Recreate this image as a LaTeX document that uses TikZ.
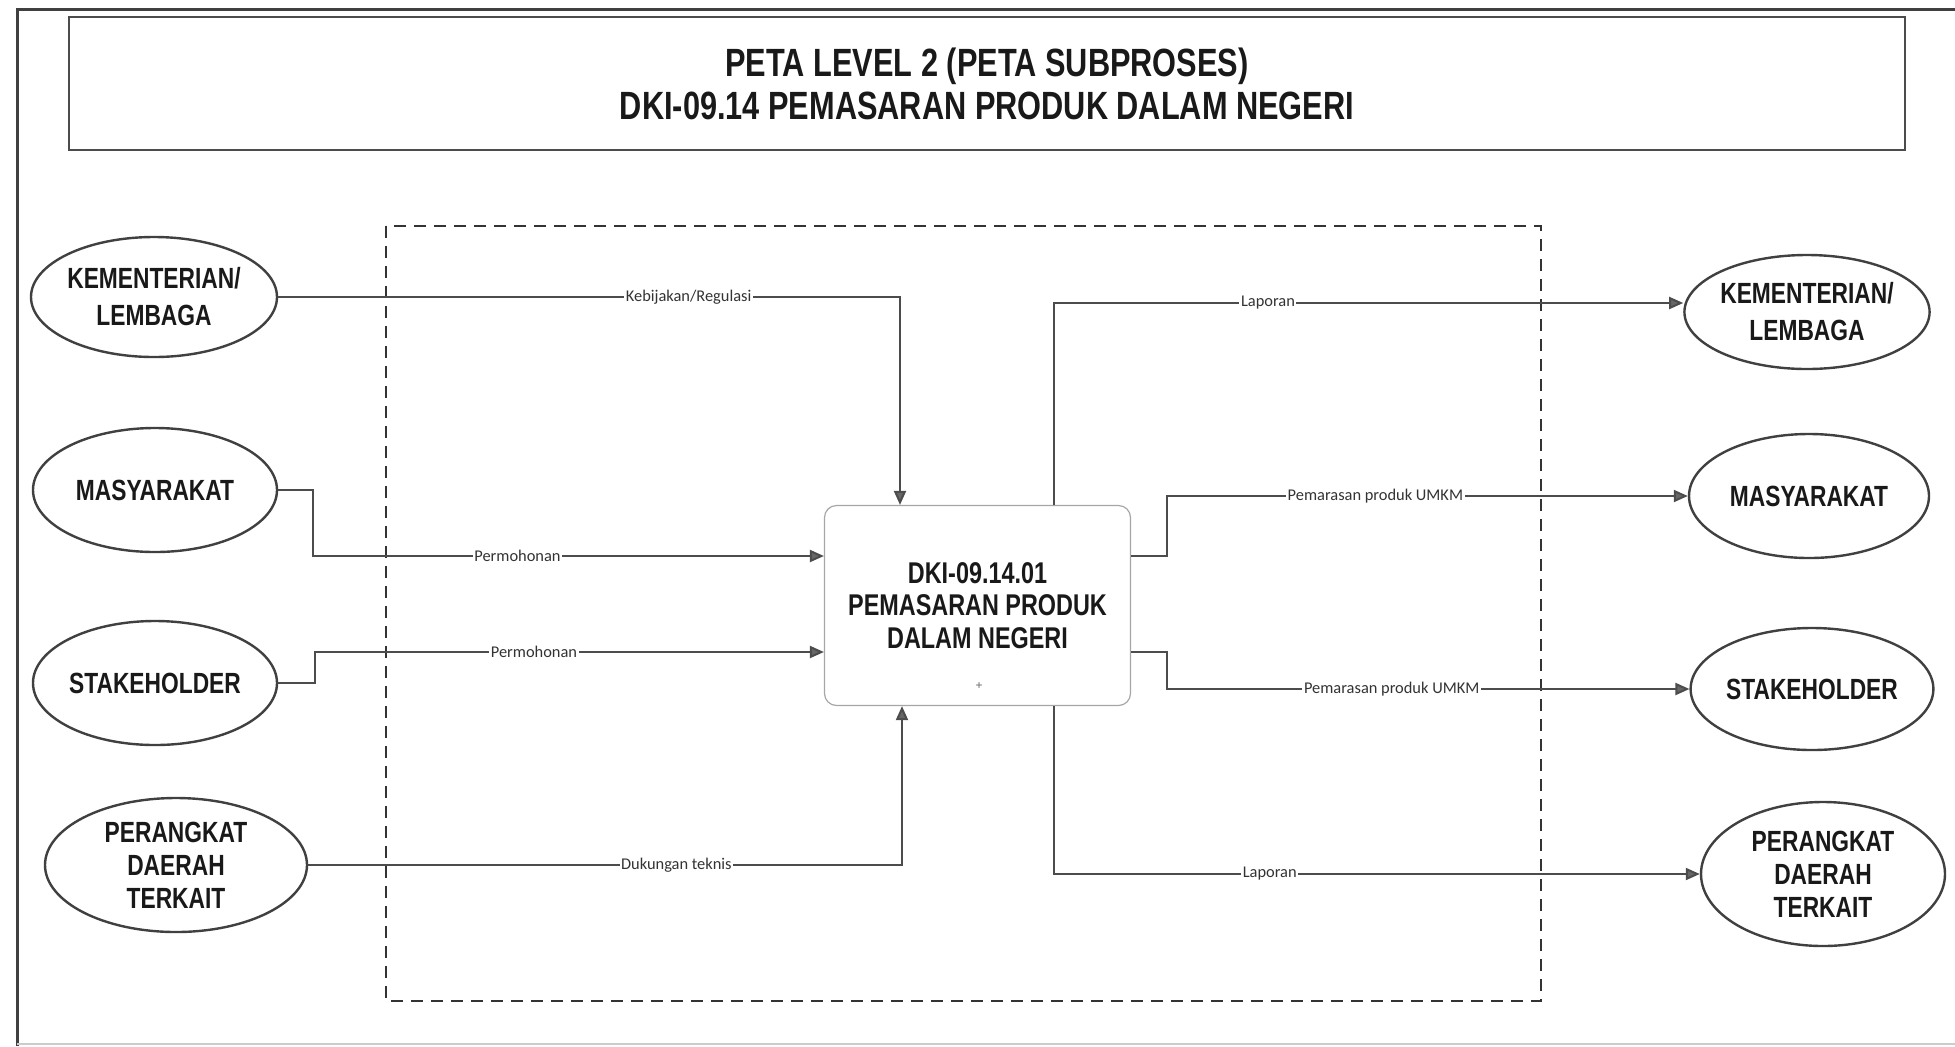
\documentclass[tikz,border=0pt]{standalone}
\usepackage{fontspec}
\setmainfont{Liberation Sans}
\newfontfamily\narrowfont[FakeStretch=0.78]{Liberation Sans}
\newfontfamily\labelfont{Carlito}
\usepackage{tikz}
\usetikzlibrary{shapes.geometric,positioning,arrows.meta}

\begin{document}
\begin{tikzpicture}[
        x=0.5pt, y=-0.5pt,
        entity/.style={ellipse, draw=black!75, line width=1.2pt, fill=white, align=center, inner sep=0pt,
            text=black!90, font=\narrowfont\bfseries\fontsize{14.6}{18.5}\selectfont},
        process/.style={rectangle, rounded corners=6pt, draw=black!35, line width=0.6pt, fill=white,
            minimum width=153pt, minimum height=100pt},
        proctext/.style={align=center, text=black!90, font=\narrowfont\bfseries\fontsize{15}{16.25}\selectfont},
        flow/.style={draw=black!70, line width=1pt, -{Triangle[length=7pt,width=6pt,fill=black!60]}},
        lbl/.style={fill=white, inner sep=0.8pt, text=black!80, font=\labelfont\fontsize{8.2}{9}\selectfont},
        titlebox/.style={rectangle, draw=black!70, line width=0.8pt, align=center, text=black!90,
            minimum width=918pt, minimum height=66.5pt, font=\narrowfont\bfseries\fontsize{19.7}{21.5}\selectfont}
    ]
        \useasboundingbox (0,0) rectangle (1955,1046);

        % Frame
        \draw[line width=1.5pt, black!75] (17,1046) -- (17,9) -- (1955,9);
        \draw[line width=0.6pt, black!20] (17,1044) -- (1955,1044);

        % Title
        \node[titlebox] (title) at (987,83.5) {PETA LEVEL 2 (PETA SUBPROSES)\\DKI-09.14 PEMASARAN PRODUK DALAM NEGERI};

        % Process boundary
        \draw[dashed, dash pattern=on 6pt off 4pt, line width=0.8pt, black!80] (386,226) rectangle (1541,1001);

        % Process
        \node[process] (proc) at (977.5,605.5) {};
        \node[proctext] (proctxt) at (proc.center) {DKI-09.14.01\\PEMASARAN PRODUK\\DALAM NEGERI};
        \node[font=\fontsize{6}{6}\selectfont, text=black!60, inner sep=0pt] (plus) at (979,686) {+};

        % Input entities
        \node[entity, minimum width=123pt, minimum height=60pt] (kl) at (154,297) {KEMENTERIAN/\\LEMBAGA};
        \node[entity, minimum width=122pt, minimum height=62pt] (ml) at (155,490) {MASYARAKAT};
        \node[entity, minimum width=122pt, minimum height=62pt] (sl) at (155,683) {STAKEHOLDER};
        \node[entity, minimum width=131pt, minimum height=67pt, font=\narrowfont\bfseries\fontsize{14.6}{16.5}\selectfont] (pl) at (176,865) {PERANGKAT\\DAERAH\\TERKAIT};

        % Output entities
        \node[entity, minimum width=117pt, minimum height=57pt] (kr) at (1807,312) {KEMENTERIAN/\\LEMBAGA};
        \node[entity, minimum width=120pt, minimum height=62pt] (mr) at (1809,496) {MASYARAKAT};
        \node[entity, minimum width=120pt, minimum height=61pt] (sr) at (1812,689) {STAKEHOLDER};
        \node[entity, minimum width=122pt, minimum height=72pt, font=\narrowfont\bfseries\fontsize{14.6}{16.5}\selectfont] (pr) at (1823,874) {PERANGKAT\\DAERAH\\TERKAIT};

        % Inputs
        \draw[flow] (kl.east) -| node[lbl, pos=0.33] {Kebijakan/Regulasi} ([xshift=-38.75pt]proc.north);
        \draw[flow] (ml.east) -- ++(35,0) |- node[lbl, pos=0.7] {Permohonan} ([yshift=24.75pt]proc.west);
        \draw[flow] (sl.east) -- ++(37,0) |- node[lbl, pos=0.715] {Permohonan} ([yshift=-23.25pt]proc.west);
        \draw[flow] (pl.east) -| node[lbl, pos=0.31] {Dukungan teknis} ([xshift=-37.75pt]proc.south);

        % Outputs
        \draw[flow] ([xshift=38.25pt]proc.north) |- node[lbl, pos=0.67] {Laporan} ([yshift=4.5pt]kr.west);
        \draw[flow] ([yshift=25pt]proc.east) -- ++(36,0) |- node[lbl, pos=0.7] {Pemarasan produk UMKM} (mr.west);
        \draw[flow] ([yshift=-23.25pt]proc.east) -- ++(36,0) |- node[lbl, pos=0.715] {Pemarasan produk UMKM} (sr.west);
        \draw[flow] ([xshift=38.25pt]proc.south) |- node[lbl, pos=0.667] {Laporan} (pr.west);
    \end{tikzpicture}
\end{document}
